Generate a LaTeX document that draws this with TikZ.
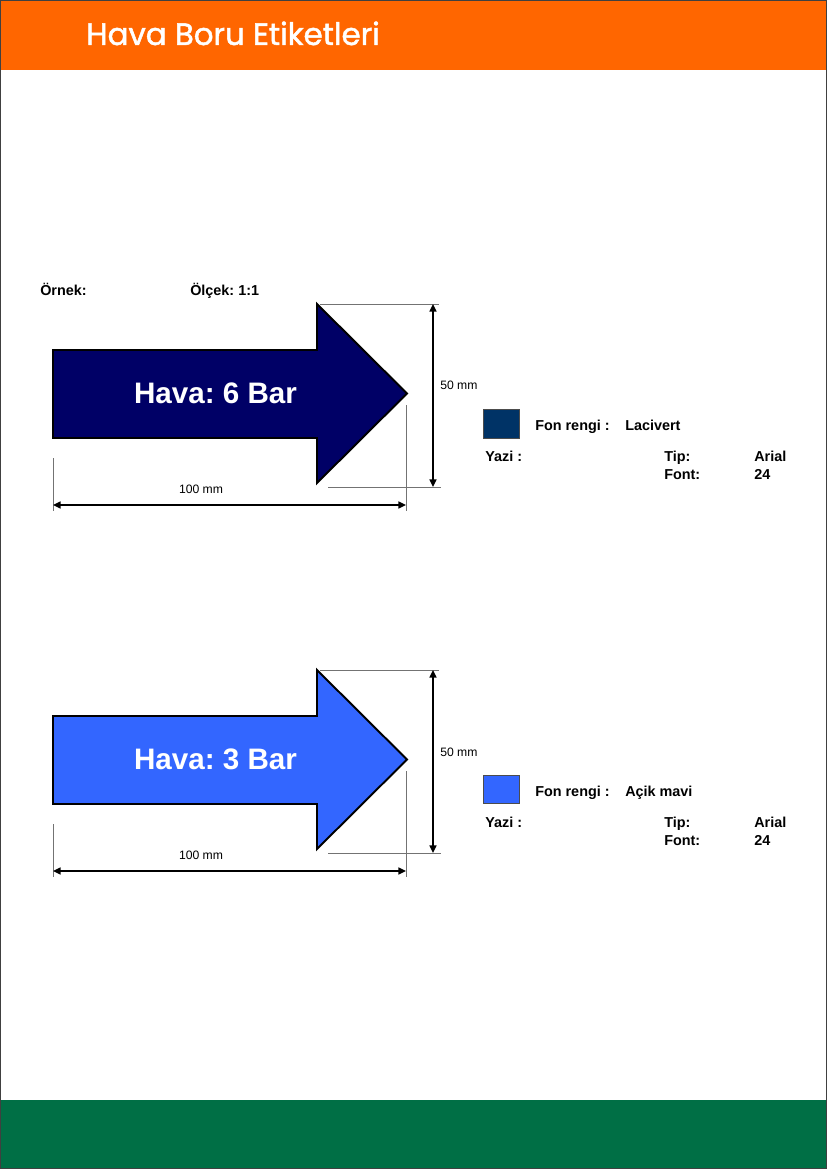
\documentclass[tikz,border=0pt]{standalone}
\usepackage{fontspec}
\setmainfont{Liberation Sans}
\newfontfamily\baslikfont[FakeBold=1.6]{Poppins}
\usetikzlibrary{arrows.meta}
\frenchspacing
\definecolor{turuncu}{HTML}{FF6600}
\definecolor{yesil}{HTML}{006F45}
\definecolor{koyumavi}{HTML}{000066}
\definecolor{lacivert}{HTML}{003366}
\definecolor{acikmavi}{HTML}{3366FF}
\begin{document}
\begin{tikzpicture}[x=0.254mm,y=-0.254mm,
  etiket/.style={draw=black,line width=1.4pt,line join=miter},
  olcu/.style={line width=1.1pt,{Triangle[length=5.5pt,width=5pt]}-{Triangle[length=5.5pt,width=5pt]}},
  yardim/.style={draw=black!55,line width=0.6pt},
  yazi/.style={anchor=base west,inner sep=0pt,font=\fontsize{10.4}{12}\selectfont\bfseries},
  kucuk/.style={inner sep=0pt,font=\fontsize{8.8}{10}\selectfont},
  buyuk/.style={text=white,font=\fontsize{21.4}{24}\selectfont\bfseries}]
\useasboundingbox (0,0) rectangle (827,1169);
\fill [turuncu] (0,0) rectangle (827,70);
\fill [yesil] (0,1100) rectangle (827,1169);
\draw [black!75,line width=0.8pt] (0.6,0.6) rectangle (826.4,1168.4);
\node [anchor=base west,inner sep=0pt,text=white,font=\baslikfont\fontsize{22.3}{26}\selectfont] (baslik) at (86,45) {Hava Boru Etiketleri};
\node [yazi] (ornek) at (40,296) {Örnek:};
\node [yazi] (olcek) at (190,296) {Ölçek: 1:1};
\filldraw [etiket,fill=koyumavi] (53,350) -- (317,350) -- (317,304) -- (407,393.5) -- (317,483) -- (317,438) -- (53,438) -- cycle;
\node [buyuk] (hava6) at (215.5,393) {Hava: 6 Bar};
\coordinate (a1) at (53,505);
\coordinate (b1) at (406,505);
\coordinate (c1) at (433,304);
\coordinate (d1) at (433,487);
\draw [yardim] (320,304) -- (439,304);
\draw [yardim] (328,487) -- (441,487);
\draw [yardim] (406,405) -- (406,511);
\draw [yardim] (53,458) -- (53,511);
\draw [olcu] (a1) -- (b1);
\draw [olcu] (c1) -- (d1);
\node [kucuk,anchor=base] (en1) at (201,493) {100 mm};
\node [kucuk,anchor=base west] (boy1) at (440,390) {50 mm};
\filldraw [draw=black!70,fill=lacivert] (483,409) rectangle (519,438);
\node [yazi] (fon1) at (535,430) {Fon rengi :};
\node [yazi] (renk1) at (625,430) {Lacivert};
\node [yazi] (yazi1) at (485,461) {Yazi :};
\node [yazi] (tip1) at (664,461) {Tip:};
\node [yazi] (arial1) at (754,461) {Arial};
\node [yazi] (font1) at (664,479) {Font:};
\node [yazi] (boyut1) at (754,479) {24};
\filldraw [etiket,fill=acikmavi] (53,716) -- (317,716) -- (317,670) -- (407,759.5) -- (317,849) -- (317,804) -- (53,804) -- cycle;
\node [buyuk] (hava3) at (215.5,759) {Hava: 3 Bar};
\coordinate (a2) at (53,871);
\coordinate (b2) at (406,871);
\coordinate (c2) at (433,670);
\coordinate (d2) at (433,853);
\draw [yardim] (320,670) -- (439,670);
\draw [yardim] (328,853) -- (441,853);
\draw [yardim] (406,771) -- (406,877);
\draw [yardim] (53,824) -- (53,877);
\draw [olcu] (a2) -- (b2);
\draw [olcu] (c2) -- (d2);
\node [kucuk,anchor=base] (en2) at (201,859) {100 mm};
\node [kucuk,anchor=base west] (boy2) at (440,756) {50 mm};
\filldraw [draw=black!70,fill=acikmavi] (483,775) rectangle (519,803);
\node [yazi] (fon2) at (535,796) {Fon rengi :};
\node [yazi] (renk2) at (625,796) {Açik mavi};
\node [yazi] (yazi2) at (485,827) {Yazi :};
\node [yazi] (tip2) at (664,827) {Tip:};
\node [yazi] (arial2) at (754,827) {Arial};
\node [yazi] (font2) at (664,845) {Font:};
\node [yazi] (boyut2) at (754,845) {24};
\end{tikzpicture}
\end{document}
